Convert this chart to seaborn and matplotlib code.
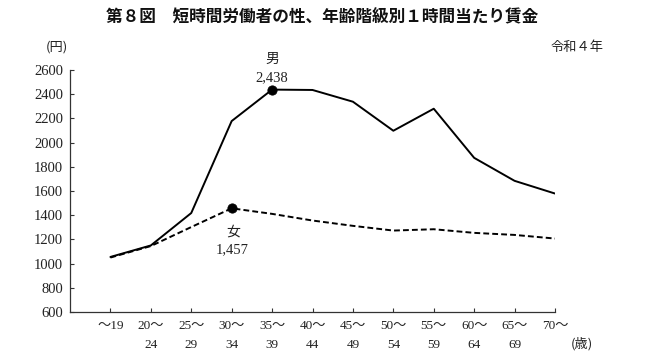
import numpy as np
import pandas as pd
import seaborn as sns
import matplotlib.pyplot as plt

# 年齢階級
age_top = ["～19", "20～", "25～", "30～", "35～", "40～", "45～", "50～", "55～", "60～", "65～", "70～"]
age_bottom = ["", "24", "29", "34", "39", "44", "49", "54", "59", "64", "69", ""]

# 1時間当たり賃金（円）
male_wage = [1055, 1150, 1418, 2178, 2438, 2435, 2338, 2098, 2280, 1874, 1684, 1579]
female_wage = [1050, 1145, 1302, 1457, 1411, 1356, 1312, 1273, 1284, 1254, 1237, 1207]

y_ticks = list(range(600, 2601, 200))

sns.set_theme(style="white")
plt.rcParams["font.family"] = ["Liberation Serif", "Noto Sans CJK JP", "DejaVu Sans"]

df = pd.DataFrame({
    "idx": list(range(len(age_top))) * 2,
    "wage": male_wage + female_wage,
    "sex": ["男"] * len(male_wage) + ["女"] * len(female_wage),
})

fig = plt.figure(figsize=(6.5, 3.63), dpi=100)
ax = fig.add_axes([70 / 650, 1 - 312 / 363, (555 - 70) / 650, (312 - 70) / 363])

sns.lineplot(data=df, x="idx", y="wage", hue="sex", style="sex",
             palette={"男": "black", "女": "black"},
             dashes={"男": "", "女": (3, 1.6)},
             linewidth=1.4, legend=False, ax=ax, sort=False)

# ピーク点
m_i = int(np.argmax(male_wage))
f_i = int(np.argmax(female_wage))
peaks = pd.DataFrame({"idx": [m_i, f_i], "wage": [male_wage[m_i], female_wage[f_i]]})
sns.scatterplot(data=peaks, x="idx", y="wage", color="black", s=45, zorder=5,
                edgecolor="black", ax=ax, legend=False)

ax.text(m_i, male_wage[m_i] + 250, "男", ha="center", va="center", fontsize=10,
        family=["Noto Sans CJK JP"], color="#222222")
ax.text(m_i, male_wage[m_i] + 95, f"{male_wage[m_i]:,}", ha="center", va="center",
        fontsize=10.5, color="#222222")
ax.text(f_i + 0.05, female_wage[f_i] - 195, "女", ha="center", va="center", fontsize=10,
        family=["Noto Sans CJK JP"], color="#222222")
ax.text(f_i, female_wage[f_i] - 345, f"{female_wage[f_i]:,}", ha="center", va="center",
        fontsize=10.5, color="#222222")

ax.set_xlim(-1, len(age_top) - 1)
ax.set_ylim(600, 2600)
ax.set_yticks(y_ticks)
ax.set_yticklabels([str(v) for v in y_ticks], fontsize=10.5)
ax.set_xticks(range(len(age_top)))
ax.set_xticklabels([f"{a}\n{b}" for a, b in zip(age_top, age_bottom)], fontsize=9.5,
                   linespacing=1.75)
ax.tick_params(axis="both", direction="in", length=3, width=0.8, color="#333333",
               bottom=True, left=True, pad=5, labelcolor="#222222")
ax.tick_params(axis="x", pad=6)
ax.set_xlabel("")
ax.set_ylabel("")
sns.despine(ax=ax)
for s in ["left", "bottom"]:
    ax.spines[s].set_color("#333333")
    ax.spines[s].set_linewidth(0.9)

fig.text(322 / 650, 1 - 17 / 363, "第８図　短時間労働者の性、年齢階級別１時間当たり賃金",
         ha="center", va="center", fontsize=12, fontweight="bold",
         family=["Noto Sans CJK JP"], color="#111111")
fig.text(57 / 650, 1 - 47 / 363, "(円)", ha="center", va="center", fontsize=9.5,
         family=["Noto Sans CJK JP"], color="#222222")
fig.text(577 / 650, 1 - 47 / 363, "令和４年", ha="center", va="center", fontsize=9.5,
         family=["Noto Sans CJK JP"], color="#222222")
fig.text(582 / 650, 1 - 344 / 363, "(歳)", ha="center", va="center", fontsize=9.5,
         family=["Noto Sans CJK JP"], color="#222222")

fig.savefig("out.png", dpi=100)
